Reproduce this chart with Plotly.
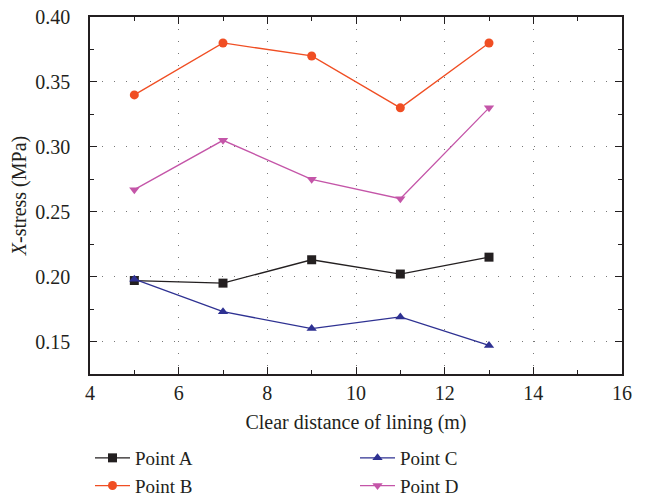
import plotly.graph_objects as go

x_vals = [5, 7, 9, 11, 13]
point_a = [0.197, 0.195, 0.213, 0.202, 0.215]
point_b = [0.340, 0.380, 0.370, 0.330, 0.380]
point_c = [0.198, 0.173, 0.160, 0.169, 0.147]
point_d = [0.267, 0.305, 0.275, 0.260, 0.330]

series = [
    ("Point A", point_a, "#231f20", "square", 1),
    ("Point B", point_b, "#f04e23", "circle", 3),
    ("Point C", point_c, "#2e3192", "triangle-up", 2),
    ("Point D", point_d, "#c455a8", "triangle-down", 4),
]

fig = go.Figure()
for name, vals, color, sym, rank in series:
    fig.add_trace(go.Scatter(
        x=x_vals, y=vals, name=name, mode="lines+markers",
        line=dict(color=color, width=1.3),
        marker=dict(symbol=sym, size=9, color=color),
        legendrank=rank,
    ))

font = "Liberation Serif, Times New Roman, serif"
axis_common = dict(
    showline=True, linecolor="#231f20", linewidth=1.5, mirror="ticks",
    ticks="inside", ticklen=7, tickcolor="#231f20", tickwidth=1.2,
    showgrid=True, gridcolor="#777777", griddash="1px,11px", gridwidth=1.2,
    zeroline=False, tickfont=dict(size=20, color="#231f20"),
    automargin=False,
)

fig.update_xaxes(
    range=[4, 16], dtick=2, tick0=4,
    minor=dict(ticks="inside", dtick=1, ticklen=4, tickcolor="#231f20", showgrid=False),
    title=dict(text="Clear distance of lining (m)", font=dict(size=20, color="#231f20"), standoff=12),
    **axis_common,
)
fig.update_yaxes(
    range=[0.125, 0.40], dtick=0.05, tick0=0.15, tickformat=".2f",
    ticklabelstandoff=14,
    minor=dict(ticks="inside", dtick=0.025, ticklen=4, tickcolor="#231f20", showgrid=False),
    title=dict(text="<i>X</i>-stress (MPa)", font=dict(size=20, color="#231f20"), standoff=3),
    **axis_common,
)

fig.update_layout(
    width=645, height=500,
    margin=dict(l=90, r=23, t=17, b=126),
    paper_bgcolor="white", plot_bgcolor="white",
    font=dict(family=font, size=20, color="#231f20"),
    legend=dict(
        orientation="h", x=0.0, xanchor="left", xref="paper",
        y=0.122, yanchor="top", yref="container",
        entrywidth=215, entrywidthmode="pixels", itemwidth=35,
        traceorder="normal", font=dict(size=19), tracegroupgap=0,
    ),
)

fig.write_html("out.html")
